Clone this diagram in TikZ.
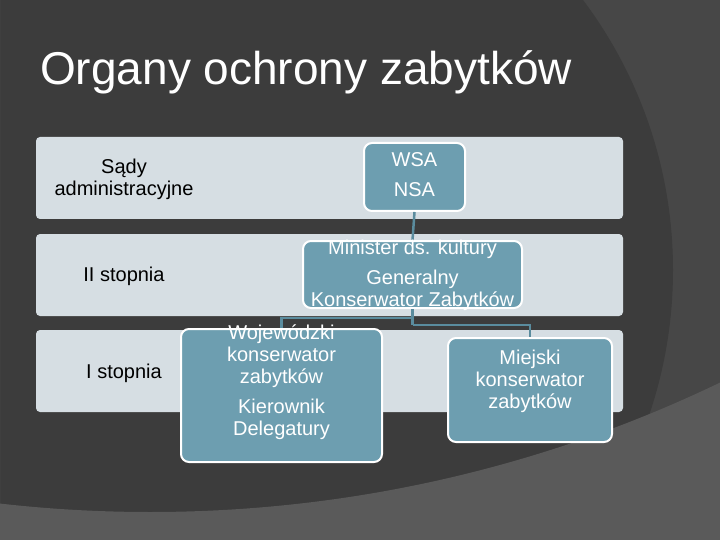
\documentclass[tikz,border=0pt]{standalone}
\usepackage{fontspec}
\setmainfont{Liberation Sans}
\usetikzlibrary{positioning}
\definecolor{bgdark}{HTML}{3C3C3C}
\definecolor{bgmid}{HTML}{474747}
\definecolor{bglow}{HTML}{5A5A5A}
\definecolor{bandgray}{HTML}{D6DEE3}
\definecolor{orgblue}{HTML}{6D9EB0}
\definecolor{linkblue}{HTML}{5A8C9E}

\begin{document}
\begin{tikzpicture}[x=1pt,y=-1pt,
  band/.style={fill=bandgray,rounded corners=4pt,inner sep=0pt,minimum width=587pt,minimum height=82pt},
  org/.style={fill=orgblue,draw=white,line width=2pt,rounded corners=8pt,inner sep=0pt},
  orgtxt/.style={text=white,align=center,inner sep=0pt,font=\fontsize{20}{22}\selectfont},
  lvl/.style={text=black,align=center,inner sep=0pt,font=\fontsize{20}{22}\selectfont},
  link/.style={draw=linkblue,line width=2.5pt}]
\useasboundingbox (0,0) rectangle (720,540);
\begin{scope}
\clip (0,0) rectangle (720,540);
\fill[bgmid] (0,0) rectangle (720,540);
\fill[bgdark] (223,270) circle (450pt);
\fill[bglow,even odd rule] (0,0) rectangle (720,540) (150,-805) circle (1317pt);
\end{scope}
\node[anchor=base west,inner sep=0pt,text=white,font=\fontsize{46}{50}\selectfont] (title) at (40,85) {Organy ochrony zabytków};
\node[band] (b1) at (329.5,178) {};
\node[band] (b2) at (329.5,275) {};
\node[band] (b3) at (329.5,371) {};
\node[lvl] (l1) at (124,179) {Sądy\\administracyjne};
\node[lvl] (l2) at (124,276) {II stopnia};
\node[lvl] (l3) at (124,373) {I stopnia};
\node[org,minimum width=101pt,minimum height=68pt] (wsa) at (414.5,177) {};
\node[org,minimum width=219pt,minimum height=67pt] (min) at (412.5,274.5) {};
\node[org,minimum width=201pt,minimum height=133pt] (woj) at (281.5,395.5) {};
\node[org,minimum width=164pt,minimum height=104pt] (mie) at (530,390) {};
\coordinate (j1) at (412.5,318);
\coordinate (j2) at (412.5,325);
\path[link] (wsa.south) -- (min.north);
\path[link] (min.south) -- (j2);
\path[link] (j1) -| (woj.north);
\path[link] (j2) -| (mie.north);
\node[orgtxt] (wsa-t) at (414.5,175) {WSA\\[8pt]NSA};
\node[orgtxt] (min-t) at (412.5,275) {Minister ds. kultury\\[8pt]Generalny\\Konserwator Zabytków};
\node[orgtxt] (woj-t) at (281.5,382) {Wojewódzki\\konserwator\\zabytków\\[8pt]Kierownik\\Delegatury};
\node[orgtxt] (mie-t) at (530,381) {Miejski\\konserwator\\zabytków};
\end{tikzpicture}
\end{document}
